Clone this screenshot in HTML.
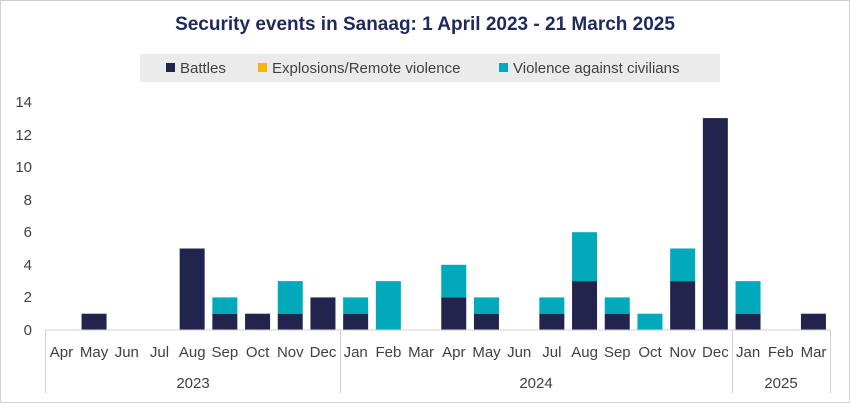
<!DOCTYPE html><html><head><style>body{margin:0;background:#fff}</style></head><body>
<svg width="850" height="404" xmlns="http://www.w3.org/2000/svg" font-family="Liberation Sans, sans-serif">
<rect x="0.5" y="0.5" width="849" height="402" fill="#fff" stroke="#d0d0d0"/>
<text x="425" y="30" text-anchor="middle" font-size="19" font-weight="bold" fill="#1f2a5c">Security events in Sanaag: 1 April 2023 - 21 March 2025</text>
<rect x="140" y="54" width="580" height="28" fill="#ebebeb"/>
<rect x="166" y="63" width="9" height="9" fill="#23244d"/><text x="180" y="73" font-size="15" fill="#404040">Battles</text>
<rect x="258" y="63" width="9" height="9" fill="#f5b800"/><text x="272" y="73" font-size="15" fill="#404040">Explosions/Remote violence</text>
<rect x="499" y="63" width="9" height="9" fill="#00aabb"/><text x="513" y="73" font-size="15" fill="#404040">Violence against civilians</text>
<g font-size="15" fill="#404040" text-anchor="end">
<text x="32" y="335">0</text><text x="32" y="302">2</text><text x="32" y="270">4</text><text x="32" y="237">6</text><text x="32" y="205">8</text><text x="32" y="172">10</text><text x="32" y="140">12</text><text x="32" y="107">14</text></g>
<g fill="#23244d">
<rect x="81.55" y="313.7" width="25" height="16.3"/>
<rect x="179.65" y="248.5" width="25" height="81.5"/>
<rect x="212.35" y="313.7" width="25" height="16.3"/>
<rect x="245.05" y="313.7" width="25" height="16.3"/>
<rect x="277.75" y="313.7" width="25" height="16.3"/>
<rect x="310.45" y="297.4" width="25" height="32.6"/>
<rect x="343.15" y="313.7" width="25" height="16.3"/>
<rect x="441.25" y="297.4" width="25" height="32.6"/>
<rect x="473.95" y="313.7" width="25" height="16.3"/>
<rect x="539.35" y="313.7" width="25" height="16.3"/>
<rect x="572.05" y="281.1" width="25" height="48.9"/>
<rect x="604.75" y="313.7" width="25" height="16.3"/>
<rect x="670.15" y="281.1" width="25" height="48.9"/>
<rect x="702.85" y="118.1" width="25" height="211.9"/>
<rect x="735.55" y="313.7" width="25" height="16.3"/>
<rect x="800.95" y="313.7" width="25" height="16.3"/>
</g>
<g fill="#00aabb">
<rect x="212.35" y="297.4" width="25" height="16.3"/>
<rect x="277.75" y="281.1" width="25" height="32.6"/>
<rect x="343.15" y="297.4" width="25" height="16.3"/>
<rect x="375.85" y="281.1" width="25" height="48.9"/>
<rect x="441.25" y="264.8" width="25" height="32.6"/>
<rect x="473.95" y="297.4" width="25" height="16.3"/>
<rect x="539.35" y="297.4" width="25" height="16.3"/>
<rect x="572.05" y="232.2" width="25" height="48.9"/>
<rect x="604.75" y="297.4" width="25" height="16.3"/>
<rect x="637.45" y="313.7" width="25" height="16.3"/>
<rect x="670.15" y="248.5" width="25" height="32.6"/>
<rect x="735.55" y="281.1" width="25" height="32.6"/>
</g>
<g stroke="#d0d0d0" fill="none"><line x1="45" y1="330" x2="830" y2="330"/><line x1="45.5" y1="330" x2="45.5" y2="393"/><line x1="340.5" y1="330" x2="340.5" y2="393"/><line x1="732.5" y1="330" x2="732.5" y2="393"/><line x1="830.5" y1="330" x2="830.5" y2="393"/></g>
<g font-size="15" fill="#404040" text-anchor="middle">
<text x="61.4" y="357">Apr</text><text x="94.1" y="357">May</text><text x="126.8" y="357">Jun</text><text x="159.5" y="357">Jul</text><text x="192.2" y="357">Aug</text><text x="224.9" y="357">Sep</text><text x="257.6" y="357">Oct</text><text x="290.3" y="357">Nov</text><text x="323" y="357">Dec</text><text x="355.7" y="357">Jan</text><text x="388.4" y="357">Feb</text><text x="421.1" y="357">Mar</text><text x="453.8" y="357">Apr</text><text x="486.5" y="357">May</text><text x="519.2" y="357">Jun</text><text x="551.9" y="357">Jul</text><text x="584.6" y="357">Aug</text><text x="617.3" y="357">Sep</text><text x="650" y="357">Oct</text><text x="682.7" y="357">Nov</text><text x="715.4" y="357">Dec</text><text x="748.1" y="357">Jan</text><text x="780.8" y="357">Feb</text><text x="813.5" y="357">Mar</text>
</g>
<g font-size="15" fill="#404040" text-anchor="middle"><text x="193" y="388">2023</text><text x="536" y="388">2024</text><text x="781" y="388">2025</text></g>
</svg></body></html>
